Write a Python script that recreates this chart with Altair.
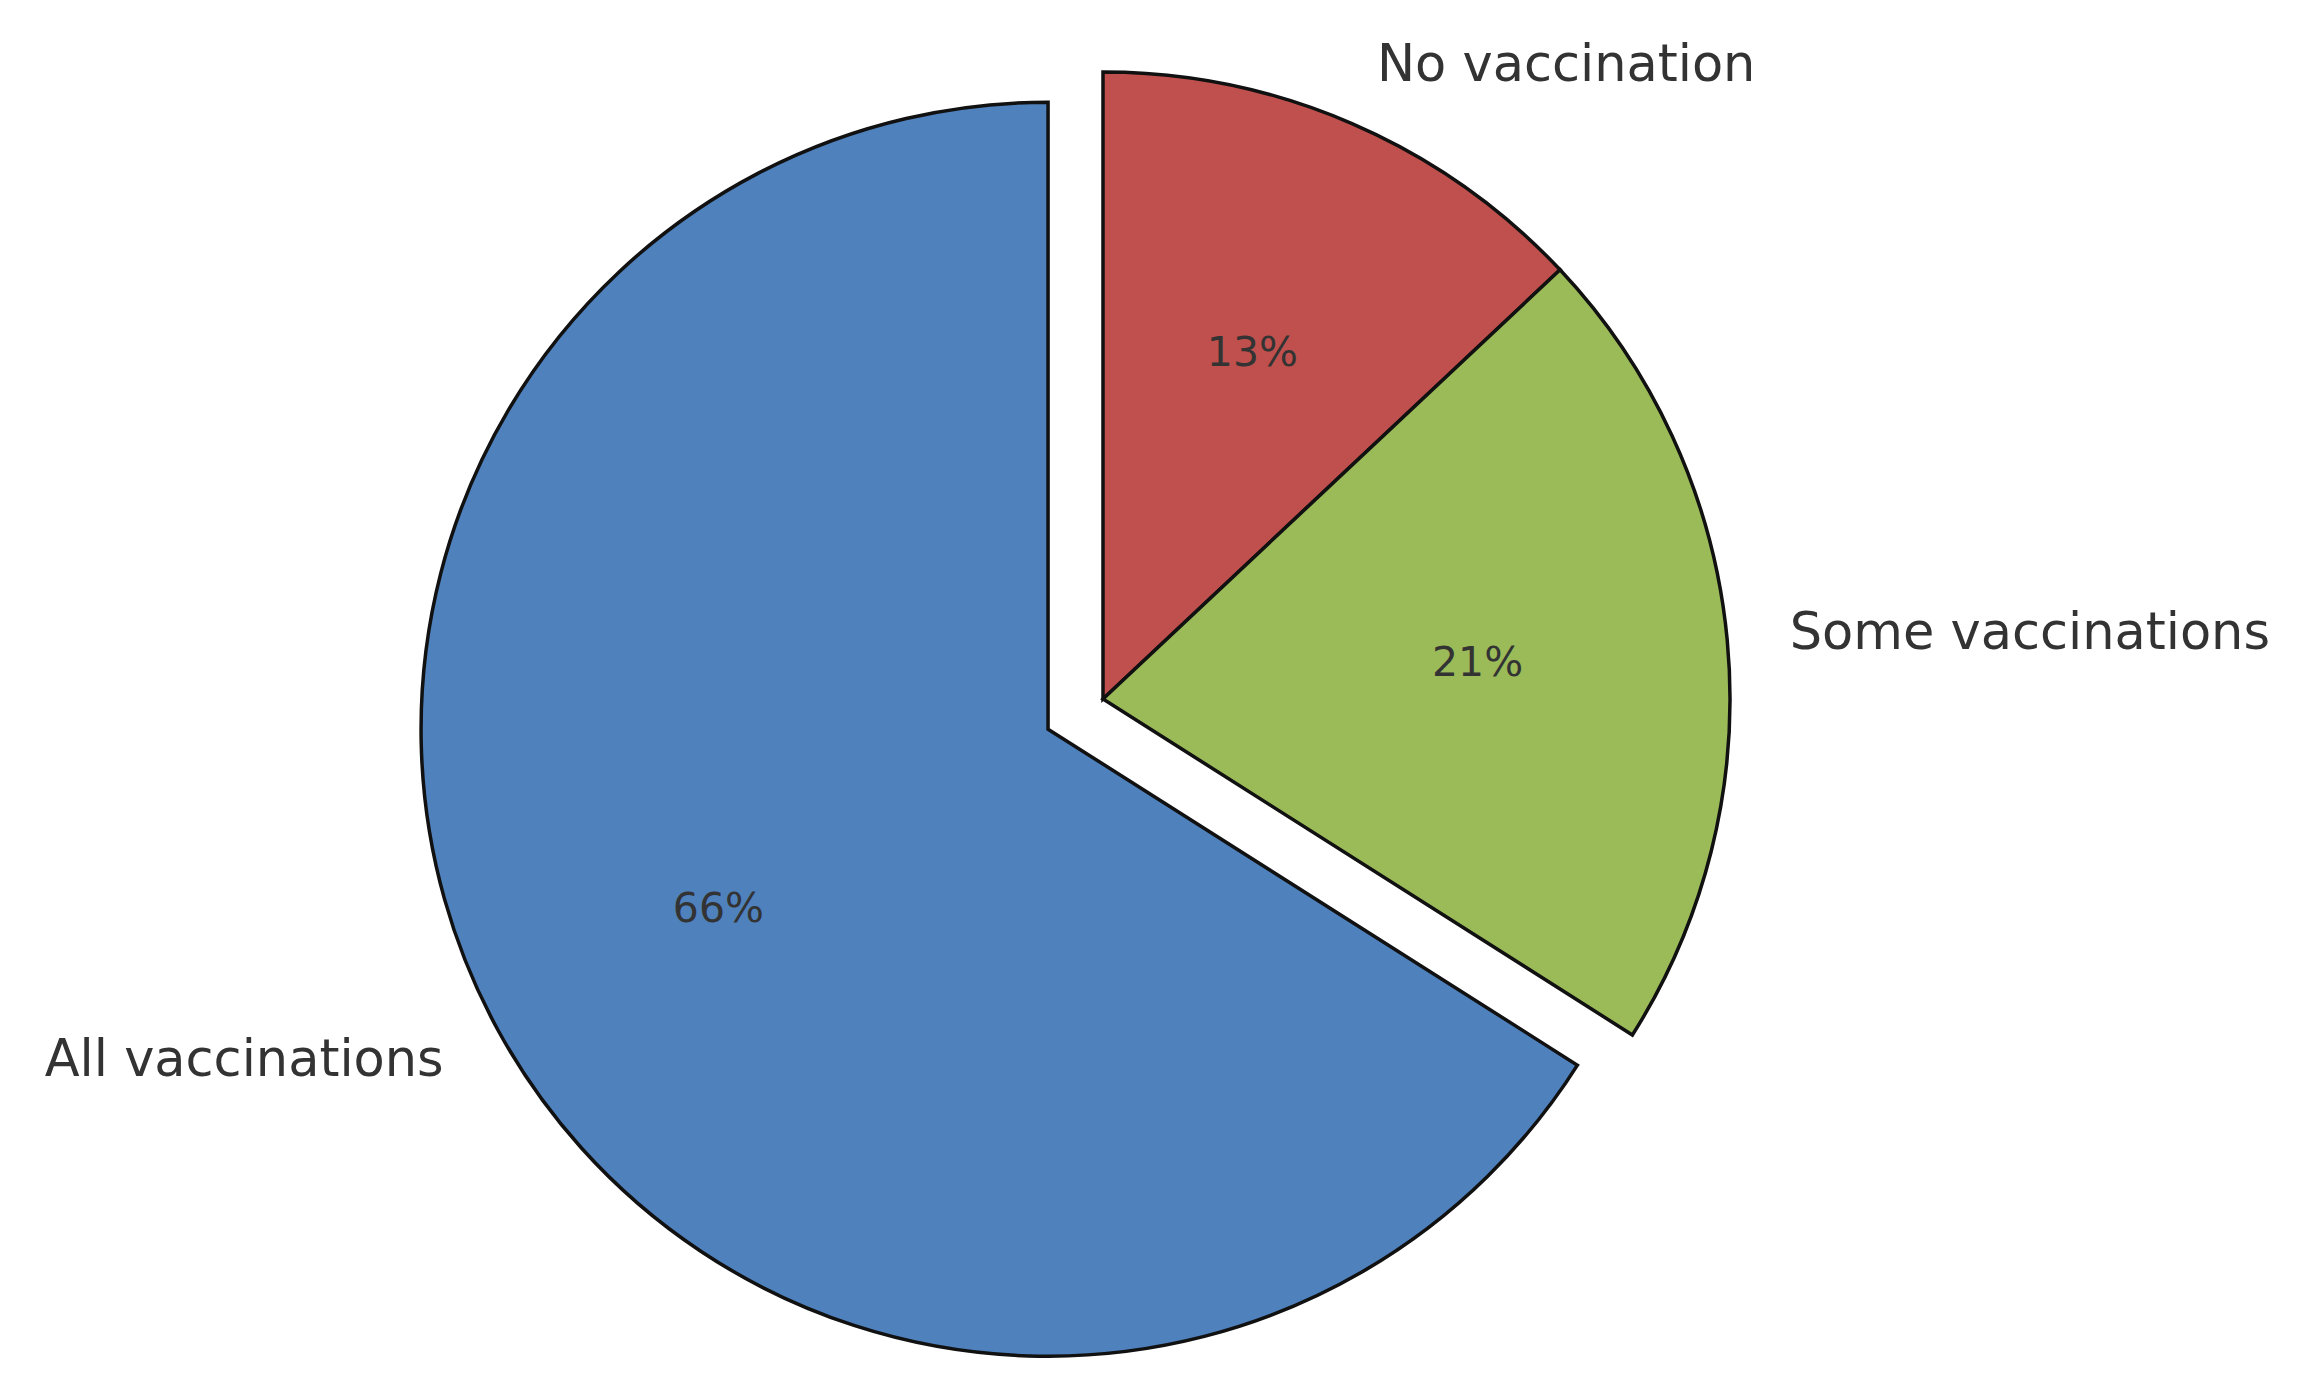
import math
import altair as alt
import pandas as pd

# ---- data ----
categories = ["No vaccination", "Some vaccinations", "All vaccinations"]
shares = [13, 21, 66]
pct_labels = ["13%", "21%", "66%"]
explode = [0.0, 0.0, 0.1]
colors = ["#c0504d", "#9bbb59", "#4f81bd"]

# ---- layout / style ----
W, H = 2290, 1365
CX, CY = 1090, 686       # pie centre in chart pixels
R = 627                  # pie radius in pixels
LABEL_DIST = 1.1
PCT_DIST = 0.6
FONT = "DejaVu Sans"
TEXT_COLOR = "#333333"

df = pd.DataFrame({
    "idx": list(range(len(categories))),
    "category": categories,
    "share": shares,
    "pct": pct_labels,
    "explode": explode,
})

base = alt.Chart(df).transform_window(
    cum="sum(share)", sort=[alt.SortField("idx")], frame=[None, 0]
).transform_joinaggregate(
    total="sum(share)"
).transform_calculate(
    start="2*PI*(datum.cum - datum.share)/datum.total",
    end="2*PI*datum.cum/datum.total",
).transform_calculate(
    mid="(datum.start + datum.end)/2",
).transform_calculate(
    cx=f"{CX} + datum.explode*{R}*sin(datum.mid)",
    cy=f"{CY} - datum.explode*{R}*cos(datum.mid)",
    side="sin(datum.mid) >= 0 ? 'right' : 'left'",
)

pos = dict(
    x=alt.X("cx:Q", scale=None),
    y=alt.Y("cy:Q", scale=None),
)

arcs = base.mark_arc(
    outerRadius=R, stroke="#111111", strokeWidth=3.5, strokeJoin="miter"
).encode(
    theta=alt.Theta("start:Q", scale=None, stack=False),
    theta2="end:Q",
    color=alt.Color("category:N", scale=alt.Scale(domain=categories, range=colors), legend=None),
    **pos,
)

labels_right = base.transform_filter("datum.side == 'right'").mark_text(
    radius=R * LABEL_DIST, align="left", baseline="middle",
    font=FONT, fontSize=51, color=TEXT_COLOR,
).encode(
    theta=alt.Theta("mid:Q", scale=None, stack=False),
    text="category:N",
    **pos,
)

labels_left = base.transform_filter("datum.side == 'left'").mark_text(
    radius=R * LABEL_DIST, align="right", baseline="middle",
    font=FONT, fontSize=51, color=TEXT_COLOR,
).encode(
    theta=alt.Theta("mid:Q", scale=None, stack=False),
    text="category:N",
    **pos,
)

pcts = base.mark_text(
    radius=R * PCT_DIST, align="center", baseline="middle",
    font=FONT, fontSize=41, color=TEXT_COLOR,
).encode(
    theta=alt.Theta("mid:Q", scale=None, stack=False),
    text="pct:N",
    **pos,
)

chart = alt.layer(arcs, labels_right, labels_left, pcts).properties(
    width=W, height=H
).configure_view(strokeWidth=0)

chart.save("out.html", embed_options={"renderer": "svg", "actions": False})
